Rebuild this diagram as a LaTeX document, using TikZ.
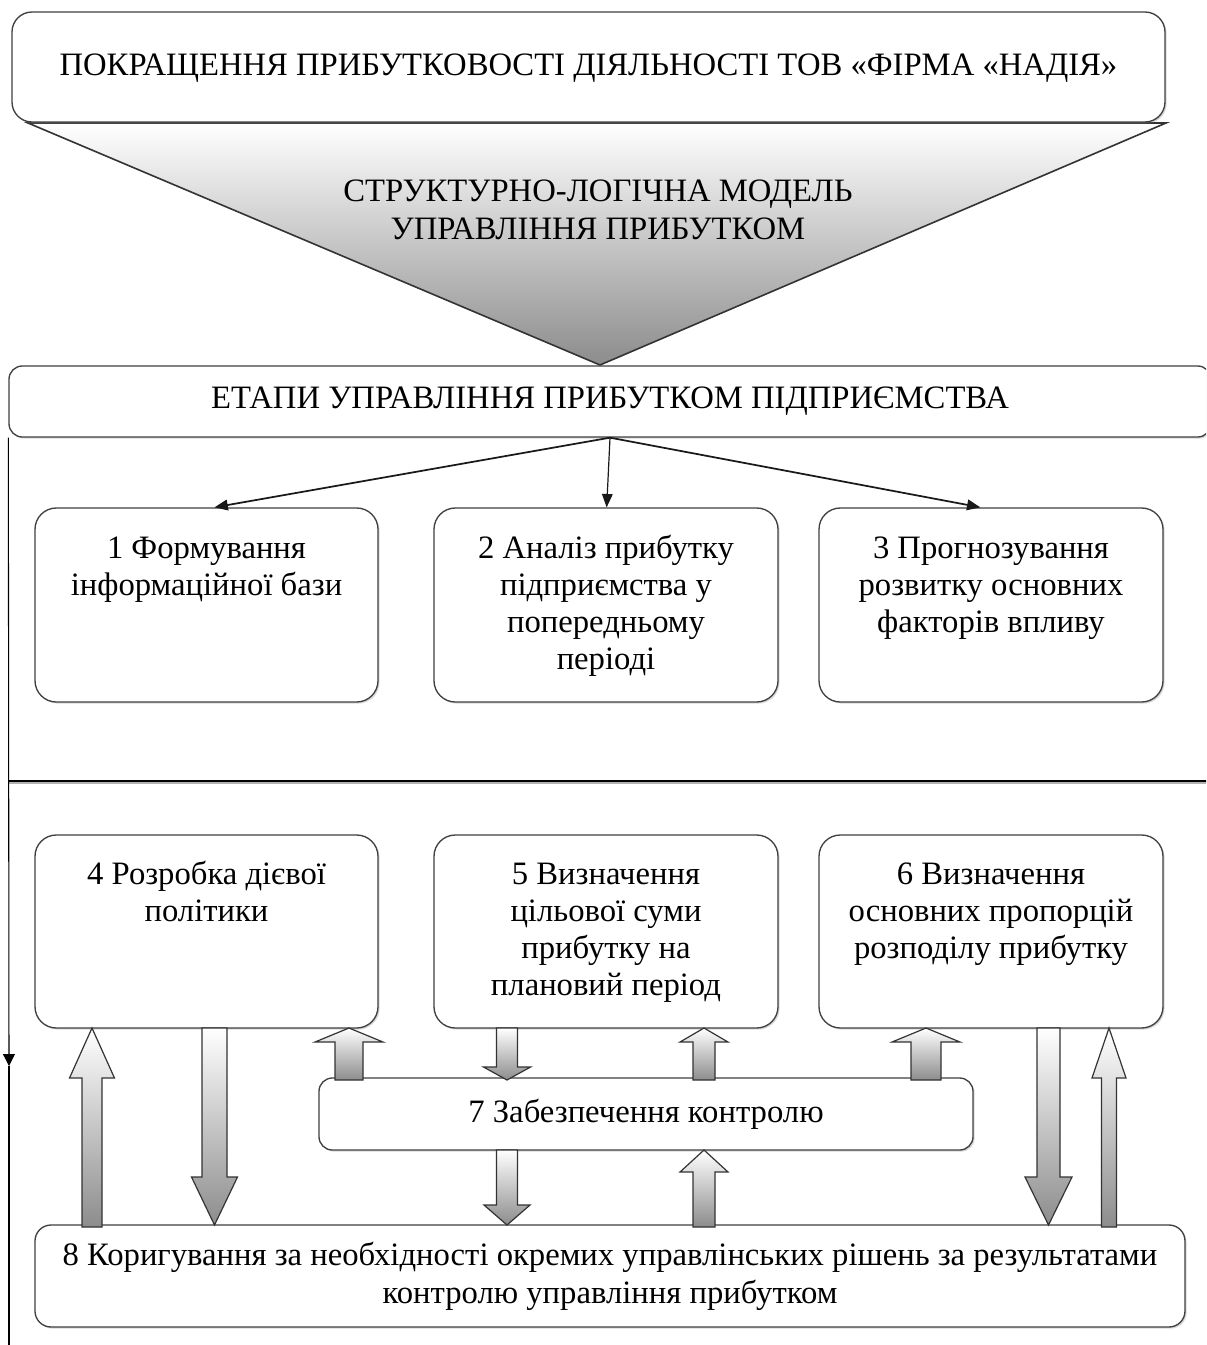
\documentclass[tikz,border=0pt]{standalone}
\usepackage{fontspec}
\setmainfont{Liberation Serif}
\usetikzlibrary{arrows.meta,shadows,calc}
\tikzset{
  box/.style={draw=black!75, line width=1pt, fill=white,
    drop shadow={shadow xshift=1.2pt, shadow yshift=-1.2pt, opacity=0.3},
    inner sep=0pt, align=center, font=\fontsize{24.5}{27.75}\selectfont},
  blockar/.style={draw=black!80, line width=0.9pt, top color=white, bottom color=black!45},
  fan/.style={draw=black!90, line width=1.3pt, -{Triangle[length=10pt,width=8pt]}},
  thinar/.style={draw=black, line width=0.8pt, -{Triangle[length=9pt,width=9pt]}},
  plainln/.style={draw=black, line width=0.8pt},
  txt/.style={align=center, inner sep=0pt, font=\fontsize{24.5}{28.5}\selectfont},
}
\newcommand{\stagetext}[1]{\parbox[c][144pt][t]{255pt}{\centering\rule{0pt}{37pt}#1}}
% up block arrow: xc, shaft half, head half, ytip, yheadbase, ybottom
\newcommand{\uparr}[6]{\path[blockar] (#1-#2,#6) -- (#1-#2,#5) -- (#1-#3,#5) -- (#1,#4) -- (#1+#3,#5) -- (#1+#2,#5) -- (#1+#2,#6) -- cycle;}
% down block arrow: xc, shaft half, head half, ytop, yheadbase, ytip
\newcommand{\downarr}[6]{\path[blockar] (#1-#2,#4) -- (#1-#2,#5) -- (#1-#3,#5) -- (#1,#6) -- (#1+#3,#5) -- (#1+#2,#5) -- (#1+#2,#4) -- cycle;}
\begin{document}
\begin{tikzpicture}[x=0.75pt,y=-0.75pt]
\clip (0,0) rectangle (1206,1345);
\fill[white] (0,0) rectangle (1206,1345);

% triangle
\path[draw=black!80, line width=1.2pt, top color=white, bottom color=black!45]
  (28,123) -- (1166,123) -- (600,365) -- cycle;
\node[txt] (tri) at (598,210) {СТРУКТУРНО-ЛОГІЧНА МОДЕЛЬ\\УПРАВЛІННЯ ПРИБУТКОМ};

% top box
\node[box, rounded corners=15pt, minimum width=864.75pt, minimum height=82.5pt,
  text depth=3pt] (top) at (588.5,67)
  {ПОКРАЩЕННЯ ПРИБУТКОВОСТІ ДІЯЛЬНОСТІ ТОВ «ФІРМА «НАДІЯ»};

% frame lines
\coordinate (midL) at (9,781);
\coordinate (midR) at (1220,781);
\draw[black!30, line width=1.2pt] ([yshift=-1.5pt]midL) -- ([yshift=-1.5pt]midR);
\draw[plainln] (midL) -- (midR);

% header
\node[box, rounded corners=10pt, minimum width=901.5pt, minimum height=53.25pt] (hdr) at (610,401.5)
  {ЕТАПИ УПРАВЛІННЯ ПРИБУТКОМ ПІДПРИЄМСТВА};

\coordinate (lftar) at (9,1066);
\coordinate (lfbot) at (9,1350);
\draw[thinar] (hdr.south west) -- (lftar);
\draw[plainln] (lftar) -- (lfbot);

% stage boxes
\node[box, rounded corners=16pt, minimum width=257.25pt, minimum height=145.5pt] (b1) at (206.5,605)
  {\stagetext{1 Формування\\інформаційної бази}};
\node[box, rounded corners=16pt, minimum width=258pt, minimum height=145.5pt] (b2) at (606,605)
  {\stagetext{2 Аналіз прибутку\\підприємства у\\попередньому\\періоді}};
\node[box, rounded corners=16pt, minimum width=258pt, minimum height=145.5pt] (b3) at (991,605)
  {\stagetext{3 Прогнозування\\розвитку основних\\факторів впливу}};

\node[box, rounded corners=16pt, minimum width=257.25pt, minimum height=144.75pt] (b4) at (206.5,931.5)
  {\stagetext{4 Розробка дієвої\\політики}};
\node[box, rounded corners=16pt, minimum width=258pt, minimum height=144.75pt] (b5) at (606,931.5)
  {\stagetext{5 Визначення\\цільової суми\\прибутку на\\плановий період}};
\node[box, rounded corners=16pt, minimum width=258pt, minimum height=144.75pt] (b6) at (991,931.5)
  {\stagetext{6 Визначення\\основних пропорцій\\розподілу прибутку}};

\node[box, rounded corners=10pt, minimum width=490.5pt, minimum height=54pt] (b7) at (646,1114)
  {7 Забезпечення контролю};
\node[box, rounded corners=12pt, minimum width=862.5pt, minimum height=76.5pt,
  font=\fontsize{24.5}{28.5}\selectfont] (b8) at (610,1276)
  {\raisebox{-3pt}{\parbox{850pt}{\centering 8 Коригування за необхідності окремих управлінських рішень за результатами\\контролю управління прибутком}}};

% fan arrows
\draw[fan] (hdr.south) -- ([xshift=6pt]b1.north);
\draw[fan, line width=0.9pt] (hdr.south) -- ([xshift=0.5pt]b2.north);
\draw[fan] (hdr.south) -- ([xshift=-8pt]b3.north);

% block arrows
\uparr{92}{10}{22.5}{1028}{1078}{1227}
\downarr{214.5}{12.5}{23}{1028}{1177}{1225}
\uparr{349}{14}{34}{1028}{1042}{1080}
\downarr{507}{10.5}{23.5}{1028}{1067}{1080}
\uparr{704}{11}{24}{1028}{1042}{1080}
\downarr{507}{10.5}{23}{1150}{1205}{1225}
\uparr{704}{11}{24}{1150}{1172}{1227}
\uparr{926}{15}{34}{1028}{1042}{1080}
\downarr{1048.5}{11.5}{23.5}{1028}{1177}{1225}
\uparr{1109}{7.5}{17}{1028}{1078}{1227}

\end{tikzpicture}
\end{document}
